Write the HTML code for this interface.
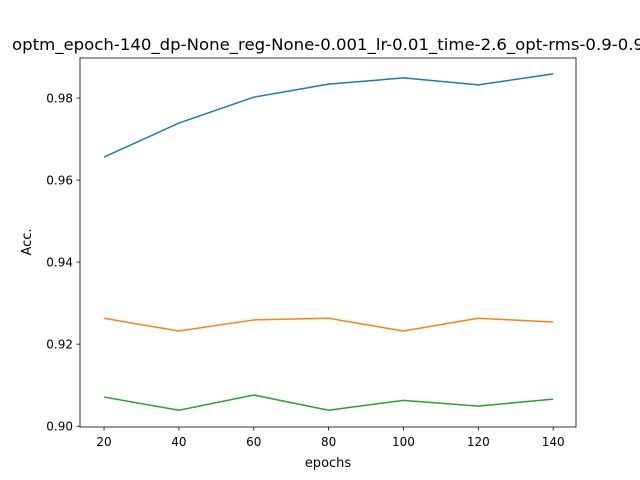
<!DOCTYPE html>
<html><head><meta charset="utf-8"><style>body{margin:0;background:#fff}svg{display:block;font-family:"DejaVu Sans","Liberation Sans",sans-serif}</style></head>
<body>
<svg width="640" height="480" id="chart">
<rect x="0" y="0" width="640" height="480" fill="#fff"/>
<text x="328" y="50" font-size="16" text-anchor="middle" textLength="632" lengthAdjust="spacingAndGlyphs">optm_epoch-140_dp-None_reg-None-0.001_lr-0.01_time-2.6_opt-rms-0.9-0.9</text>
<g id="plot"></g>
<rect x="80" y="58" width="496" height="369" fill="none" stroke="#000" stroke-width="0.8"/>
<text x="328" y="467" font-size="13" text-anchor="middle">epochs</text>
<text x="31" y="242" font-size="13" text-anchor="middle" transform="rotate(-90 31 242)">Acc.</text>
</svg>
<script>
const epochs=[20,40,60,80,100,120,140];
const blueSeries=[0.9656,0.9739,0.9802,0.9834,0.9849,0.9832,0.9859];
const orangeSeries=[0.9263,0.9232,0.9259,0.9263,0.9232,0.9263,0.9254];
const greenSeries=[0.9071,0.9039,0.9076,0.9039,0.9063,0.9049,0.9066];
const xTicks=[20,40,60,80,100,120,140];
const yTicks=[0.90,0.92,0.94,0.96,0.98];
const NS="http://www.w3.org/2000/svg";
const g=document.getElementById('plot');
function xs(v){return 80+(v-13.58)*(496/(146.1-13.58));}
function ys(v){return 427-(v-0.8998)*(369/(0.98976-0.8998));}
function mk(t,a){const e=document.createElementNS(NS,t);for(const k in a)e.setAttribute(k,a[k]);g.appendChild(e);return e;}
xTicks.forEach(v=>{
 const l=mk('line',{x1:xs(v),x2:xs(v),y1:427,y2:430.5,stroke:'#000','stroke-width':0.8});
 
 
 const t=mk('text',{x:xs(v),y:446,'font-size':12,'text-anchor':'middle'});t.textContent=v;
 
 
});
yTicks.forEach(v=>{
 const l=mk('line',{x1:76.5,x2:80,y1:ys(v),y2:ys(v),stroke:'#000','stroke-width':0.8});
 
 
 const t=mk('text',{x:73,y:ys(v)+4.5,'font-size':12,'text-anchor':'end'});t.textContent=v.toFixed(2);
 
 
});
[[blueSeries,'#1f77b4','series-blue'],[orangeSeries,'#ff7f0e','series-orange'],[greenSeries,'#2ca02c','series-green']].forEach(([s,c,n])=>{
 const p=mk('polyline',{points:s.map((v,i)=>xs(epochs[i])+','+ys(v)).join(' '),fill:'none',stroke:c,'stroke-width':1.5});
 
 
});
</script>
</body></html>
